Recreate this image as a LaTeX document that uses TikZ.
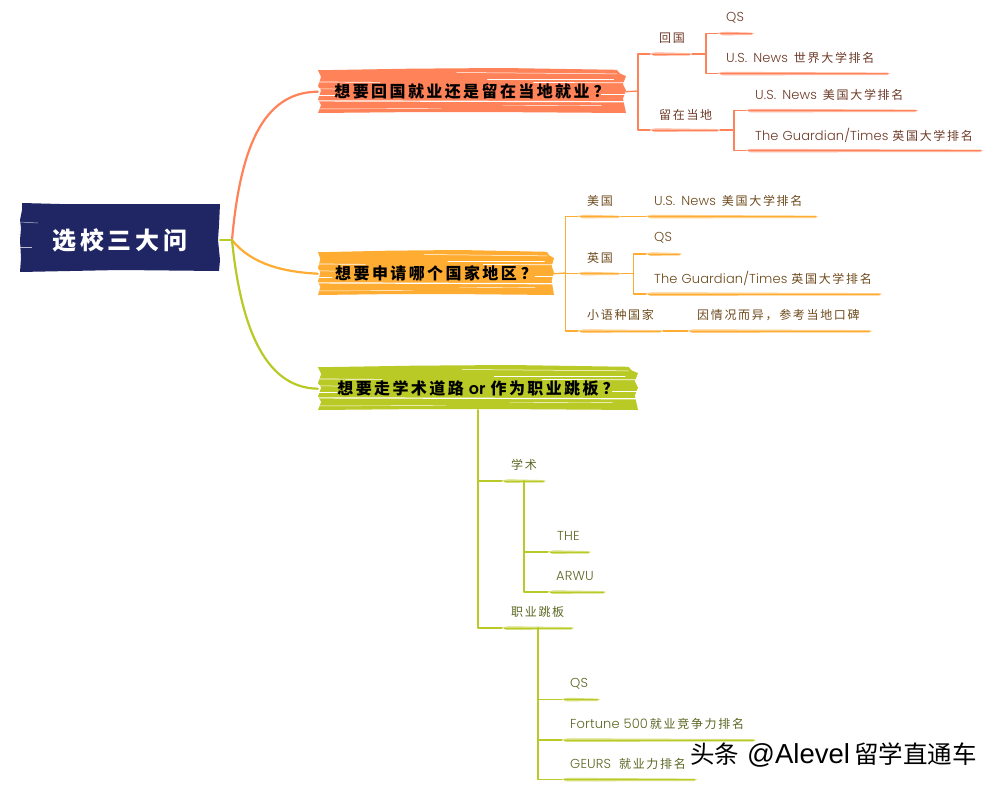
\documentclass[tikz,border=0pt]{standalone}
\usepackage{fontspec}
\setmainfont{Poppins Light}[BoldFont={Poppins SemiBold},LetterSpace=1,WordSpace=1.1]
\newfontfamily\cjk[LetterSpace=14]{Noto Sans CJK SC}
\newfontfamily\cjkbanner[LetterSpace=15]{Noto Sans CJK SC}
\newfontfamily\cjkplain{Noto Sans CJK SC}
\newfontfamily\wmlatin{Liberation Sans}
\newcommand{\zh}[1]{{\fontsize{12}{14}\selectfont\cjk #1}}
\newcommand{\zb}[1]{{\cjkbanner #1}}
\newcommand{\usnews}{U.S.\hspace{6pt}News\hspace{6pt}}
\definecolor{redl}{HTML}{FF8258}
\definecolor{oral}{HTML}{FFAC33}
\definecolor{grnl}{HTML}{B9C925}
\definecolor{navy}{HTML}{1F2663}
\definecolor{redt}{HTML}{6E3A28}
\definecolor{orat}{HTML}{6E4A1C}
\definecolor{grnt}{HTML}{5B6722}
\tikzset{
  leaftext/.style={anchor=west,inner sep=0pt,font=\fontsize{13}{15}\selectfont},
  bannertext/.style={inner sep=0pt,text=black,font=\fontsize{16}{18}\selectfont\bfseries},
  conn/.style={line width=1.3pt,line join=round,line cap=round},
  thick conn/.style={line width=2.2pt,line cap=round},
  scratch/.style={white,line cap=round},
}
% name, x0, x1, y, colour : the brushed underline of a topic
\newcommand{\ul}[5]{%
  \coordinate (#1s) at (#2,#4);
  \coordinate (#1e) at (#3,#4);
  \fill[#5!60] (#2,#4-.6) -- ({#2+6},#4-1.7) -- ({#3-3},#4-.9) -- (#3,#4) -- ({#3-3},#4+1.5) -- ({#2+4},#4+1.9) -- cycle;
  \draw[#5,line width=1pt] ({#2+2},#4) -- ({#3-2},#4);
}
% name, x, y, w, h, colour, text : a brushed banner with its text
\newcommand{\banner}[7]{%
  \begin{scope}[shift={(#2,#3)},xscale={#4/100},yscale={#5/100}]
    \fill[#6] (0,5) -- (30,1.5) -- (60,0) -- (97,4) -- (98,12) -- (100,18) -- (99,36) -- (100,50) -- (99,68) -- (100,100) -- (60,98) -- (30,98) -- (0,100) -- (1,82) -- (0,70) -- (1,50) -- (0,40) -- (1,20) -- cycle;
    \draw[scratch,line width=.5pt] (45,10) -- (97,13);
    \draw[scratch,line width=.5pt] (55,24) -- (96,24);
    \draw[scratch,line width=.7pt] (0,31) -- (20,32);
    \draw[scratch,line width=.7pt] (70,32) -- (100,33);
    \draw[scratch,line width=.5pt] (0,46) -- (7,47);
    \draw[scratch,line width=.5pt] (0,60) -- (6,60);
    \draw[scratch,line width=.5pt] (92,58) -- (100,58);
    \draw[scratch,line width=1.2pt] (0,73) -- (100,75);
    \draw[scratch,line width=.4pt] (60,84) -- (92,83);
    \draw[scratch,line width=.4pt] (0,91) -- (40,90);
  \end{scope}
  \node[bannertext,yshift=-1.2pt,minimum width=#4pt,minimum height=#5pt] (#1) at ({#2+#4/2},{#3+#5/2}) {#7};
}
\begin{document}
\begin{tikzpicture}[x=1pt,y=-1pt]
\useasboundingbox (0,0) rectangle (999,790);
\fill[white] (0,0) rectangle (999,790);

% root
\fill[navy] (22,203) -- (60,204) -- (220,204) -- (219,225) -- (218,240) -- (220,260) -- (219,271) -- (120,270) -- (20,272) -- (21,258) -- (20,240) -- (21,228) -- (20,220) -- (22,210) -- cycle;
\draw[white,line width=.5pt,opacity=.7] (20,222) -- (38,223);
\draw[white,line width=.5pt,opacity=.7] (20,247) -- (32,247);
\node[text=white,inner sep=0pt,minimum width=200pt,minimum height=68pt,font=\fontsize{24}{28}\selectfont\bfseries] (root) at (120,240) {{\cjkplain\addfontfeature{LetterSpace=15}选校三大问}};
\coordinate (hub) at (232,240);

% banners
\banner{qa}{318}{68}{308}{45}{redl}{\zb{想要回国就业还是留在当地就业}\hspace{4pt}\zb{？}}
\banner{qb}{318}{250}{236}{45}{oral}{\zb{想要申请哪个国家地区}\hspace{4pt}\zb{？}}
\banner{qc}{318}{365}{320}{45}{grnl}{\zb{想要走学术道路}\hspace{5pt}or\hspace{5pt}\zb{作为职业跳板}\hspace{4pt}\zb{？}}

% main branches
\draw[redl,thick conn] (hub) .. controls (240,150) and (262,92) .. (qa.west);
\draw[oral,thick conn] (hub) .. controls (252,265) and (285,272) .. (qb.west);
\draw[grnl,thick conn] (hub) .. controls (240,320) and (262,388) .. (qc.west);
\draw[grnl,thick conn] (root.east) -- (hub);

% ===== branch 1
\ul{a}{650}{692}{54}{redl}
\ul{aa}{718}{754}{33.5}{redl}
\ul{ab}{718}{890}{73.5}{redl}
\ul{b}{650}{720}{130}{redl}
\ul{ba}{746}{918}{110.5}{redl}
\ul{bb}{746}{983}{150.5}{redl}
\coordinate (ja) at (638,91);
\coordinate (jaa) at (706,54);
\coordinate (jb) at (734,130);
\begin{scope}[redl,conn]
  \draw (qa.east) -- (ja);
  \draw (ja) |- (as);
  \draw (ja) |- (bs);
  \draw (ae) -- (jaa);
  \draw (jaa) |- (aas);
  \draw (jaa) |- (abs);
  \draw (be) -- (jb);
  \draw (jb) |- (bas);
  \draw (jb) |- (bbs);
\end{scope}
\begin{scope}[every node/.style={leaftext,text=redt}]
  \node (ta) at (659,38) {\zh{回国}};
  \node (taa) at (726,18) {QS};
  \node (tab) at (726,58) {\usnews\zh{世界大学排名}};
  \node (tb) at (659,115) {\zh{留在当地}};
  \node (tba) at (755,95) {\usnews\zh{美国大学排名}};
  \node (tbb) at (755,135) {The Guardian/Times \zh{英国大学排名}};
\end{scope}

% ===== branch 2
\ul{c}{578}{621}{216.5}{oral}
\ul{ca}{646}{818}{216.5}{oral}
\ul{d}{578}{621}{273.5}{oral}
\ul{da}{646}{682}{254}{oral}
\ul{db}{646}{882}{294}{oral}
\ul{e}{578}{663}{331}{oral}
\ul{ea}{688}{872}{331}{oral}
\coordinate (jc) at (565.5,273);
\coordinate (jd) at (633.5,273.5);
\begin{scope}[oral,conn]
  \draw (qb.east) -- (jc);
  \draw (jc) |- (cs);
  \draw (jc) |- (ds);
  \draw (jc) |- (es);
  \draw (ce) -- (cas);
  \draw (de) -- (jd);
  \draw (jd) |- (das);
  \draw (jd) |- (dbs);
  \draw (ee) -- (eas);
\end{scope}
\begin{scope}[every node/.style={leaftext,text=orat}]
  \node (tc) at (587,201) {\zh{美国}};
  \node (tca) at (654,201) {\usnews\zh{美国大学排名}};
  \node (td) at (587,258) {\zh{英国}};
  \node (tda) at (654,238) {QS};
  \node (tdb) at (654,278) {The Guardian/Times \zh{英国大学排名}};
  \node (te) at (587,315) {\zh{小语种国家}};
  \node (tea) at (697,315) {\zh{因情况而异，参考当地口碑}};
\end{scope}

% ===== branch 3
\ul{f}{502}{546}{481}{grnl}
\ul{fa}{548}{591}{552}{grnl}
\ul{fb}{548}{606}{592}{grnl}
\ul{g}{502}{574}{628}{grnl}
\ul{ga}{562}{600}{699.5}{grnl}
\ul{gb}{562}{756}{740}{grnl}
\ul{gc}{562}{697}{779.5}{grnl}
\coordinate (jf) at (478,410);
\coordinate (jfa) at (524,481);
\coordinate (jga) at (538,628);
\begin{scope}[grnl,conn]
  \draw (jf) |- (fs);
  \draw (jf) |- (gs);
  \draw (jfa) |- (fas);
  \draw (jfa) |- (fbs);
  \draw (jga) |- (gas);
  \draw (jga) |- (gbs);
  \draw (jga) |- (gcs);
\end{scope}
\begin{scope}[every node/.style={leaftext,text=grnt}]
  \node (tf) at (511,465) {\zh{学术}};
  \node (tfa) at (557,536) {THE};
  \node (tfb) at (556,576) {ARWU};
  \node (tg) at (511,612) {\zh{职业跳板}};
  \node (tga) at (570,684) {QS};
  \node (tgb) at (570,724) {Fortune 500\hspace{2pt}\zh{就业竞争力排名}};
  \node (tgc) at (570,764) {GEURS\hspace{8pt}\zh{就业力排名}};
\end{scope}

% watermark
\node[anchor=west,inner sep=0pt,text=black,font=\fontsize{24.5}{28}\selectfont] (wm) at (690,755) {\cjkplain 头条\hspace{8pt}{\wmlatin\fontsize{27.5}{28}\selectfont @Alevel}\hspace{4pt}留学直通车};
\end{tikzpicture}
\end{document}
